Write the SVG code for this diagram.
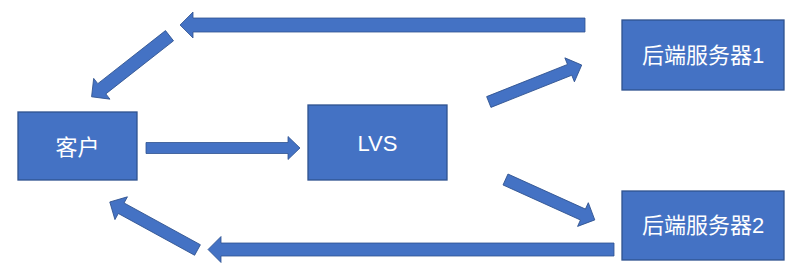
<svg xmlns="http://www.w3.org/2000/svg" width="804" height="276" viewBox="0 0 804 276">
<style>
.box{fill:#4472C4;stroke:#2F528F;stroke-width:1.3}
.arr{fill:#4472C4;stroke:#2F528F;stroke-width:0.8}
.lbl{fill:#FFFFFF;font-family:"Liberation Sans","Noto Sans CJK SC",sans-serif;font-size:22px;text-anchor:middle;dominant-baseline:central}
</style>
<rect width="804" height="276" fill="#FFFFFF"/>
<g id="connectors">
<polygon class="arr" points="585,18 193,18 193,12 180,25 193,38 193,32 585,32"/>
<polygon class="arr" transform="translate(169.5,35.7) rotate(141.9)" points="0,-6.5 86,-6.5 86,-13.2 99,0 86,13.2 86,6.5 0,6.5"/>
<polygon class="arr" points="146,142.5 288,142.5 288,136.5 300,148 288,159.5 288,153.5 146,153.5"/>
<polygon class="arr" transform="translate(488.8,102) rotate(-21.7)" points="0,-5.8 87,-5.8 87,-12.9 100,0 87,12.9 87,5.8 0,5.8"/>
<polygon class="arr" transform="translate(505.5,179.5) rotate(24.35)" points="0,-6 85,-6 85,-13 98,0 85,13 85,6 0,6"/>
<polygon class="arr" points="614,243 221,243 221,236.5 208,249.5 221,262.5 221,256 614,256"/>
<polygon class="arr" transform="translate(197.5,250) rotate(-151.3)" points="0,-6 87,-6 87,-13 100,0 87,13 87,6 0,6"/>
</g>
<g id="client">
<rect class="box" x="18" y="112" width="119" height="68"/>
<text class="lbl" x="77.5" y="147">客户</text>
</g>
<g id="lvs">
<rect class="box" x="308" y="105" width="139" height="75"/>
<text class="lbl" x="377.5" y="143">LVS</text>
</g>
<g id="server1">
<rect class="box" x="622" y="20" width="162" height="70"/>
<text class="lbl" x="703" y="55">后端服务器1</text>
</g>
<g id="server2">
<rect class="box" x="622" y="191" width="162" height="69"/>
<text class="lbl" x="703" y="225.5">后端服务器2</text>
</g>
</svg>
